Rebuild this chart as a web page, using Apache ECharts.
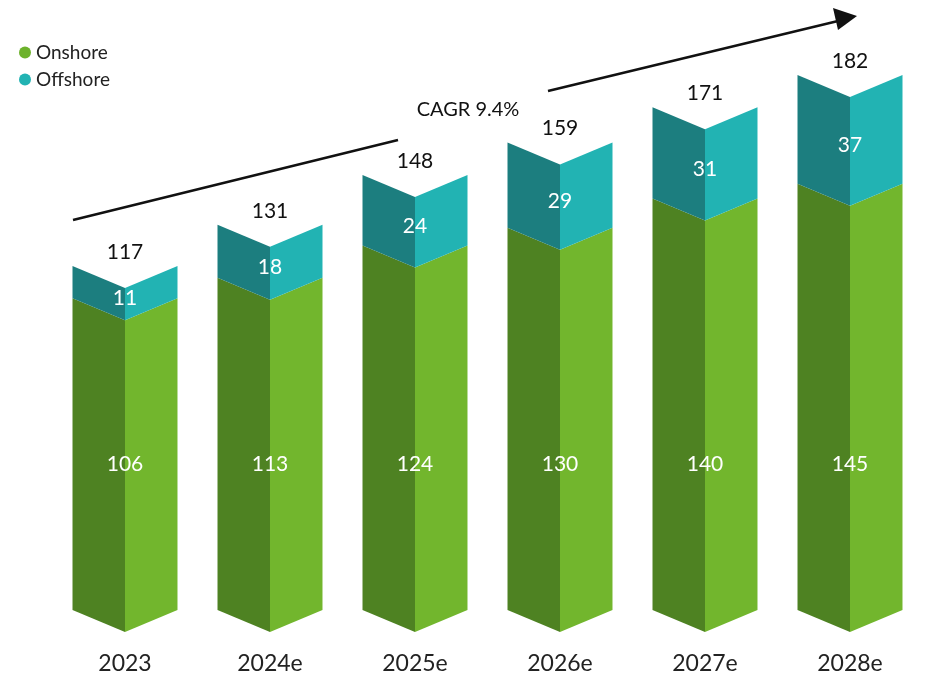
<!DOCTYPE html>
<html>
<head>
<meta charset="utf-8">
<script src="https://cdn.jsdelivr.net/npm/echarts@6/dist/echarts.min.js"></script>
<style>html,body{margin:0;background:#fff}#main{width:950px;height:698px}</style>
</head>
<body>
<div id="main"></div>
<script>
var years = ['2023', '2024e', '2025e', '2026e', '2027e', '2028e'];
var onshore = [106, 113, 124, 130, 140, 145];
var offshore = [11, 18, 24, 29, 31, 37];
var totals = [117, 131, 148, 159, 171, 182];

var chart = echarts.init(document.getElementById('main'));
var FONT = 'Lato, "DejaVu Sans", sans-serif';
var DEPTH = 22;

// 一根柱子的一段：左暗右亮，顶底都是 V 形
function prism(api, idx, v0, v1, dark, light) {
   var band = api.size([1, 0])[0];
   var hw = band * 0.362;
   var b = api.coord([idx, v0]);
   var t = api.coord([idx, v1]);
   var cx = b[0];
   return [{
      type: 'polygon',
      shape: { points: [[cx - hw, t[1] - DEPTH], [cx, t[1]], [cx, b[1]], [cx - hw, b[1] - DEPTH]] },
      style: { fill: dark }
   }, {
      type: 'polygon',
      shape: { points: [[cx, t[1]], [cx + hw, t[1] - DEPTH], [cx + hw, b[1] - DEPTH], [cx, b[1]]] },
      style: { fill: light }
   }];
}

var option = {
   animation: false,
   grid: { left: 52.5, right: 27.5, top: 44, bottom: 66 },
   legend: {
      orient: 'vertical', left: 14, top: 38, itemGap: 8,
      icon: 'circle', itemWidth: 12, itemHeight: 12,
      textStyle: { fontFamily: FONT, fontSize: 19, color: '#222' },
      data: ['Onshore', 'Offshore']
   },
   xAxis: {
      type: 'category', data: years,
      axisLine: { show: false }, axisTick: { show: false },
      axisLabel: { fontFamily: FONT, fontSize: 23, color: '#222', margin: 20 }
   },
   yAxis: { type: 'value', min: 0, max: 200, show: false, splitLine: { show: false } },
   series: [{
      name: 'Onshore', type: 'custom',
      itemStyle: { color: '#6db22c' },
      data: onshore.map(function (v, i) { return [i, v]; }),
      renderItem: function (params, api) {
         var i = api.value(0), v = api.value(1);
         var kids = prism(api, i, 0, v, '#4e8222', '#72b62d');
         var p = api.coord([i, 57]);
         kids.push({ type: 'text', x: p[0], y: p[1], style: { text: String(v), fill: '#fff', fontSize: 21, fontFamily: FONT, align: 'center', verticalAlign: 'middle' } });
         return { type: 'group', children: kids };
      }
   }, {
      name: 'Offshore', type: 'custom',
      itemStyle: { color: '#22b3b3' },
      data: offshore.map(function (v, i) { return [i, v]; }),
      renderItem: function (params, api) {
         var i = api.value(0), v = api.value(1);
         var base = onshore[i], top = base + v;
         var kids = prism(api, i, base, top, '#1c7e7f', '#22b3b3');
         var m = api.coord([i, base + v / 2]);
         kids.push({ type: 'text', x: m[0], y: m[1] - 6, style: { text: String(v), fill: '#fff', fontSize: 21, fontFamily: FONT, align: 'center', verticalAlign: 'middle' } });
         var t = api.coord([i, top]);
         kids.push({ type: 'text', x: t[0], y: t[1] - DEPTH - 14, style: { text: String(totals[i]), fill: '#111', fontSize: 21, fontFamily: FONT, align: 'center', verticalAlign: 'middle' } });
         return { type: 'group', children: kids };
      }
   }],
   graphic: [
      { type: 'line', shape: { x1: 73, y1: 220, x2: 398, y2: 140 }, style: { stroke: '#111', lineWidth: 2.5 } },
      { type: 'text', x: 468, y: 110, style: { text: 'CAGR 9.4%', fill: '#111', fontSize: 20, fontFamily: FONT, align: 'center', verticalAlign: 'middle' } },
      { type: 'line', shape: { x1: 548, y1: 91, x2: 838, y2: 21 }, style: { stroke: '#111', lineWidth: 2.5 } },
      { type: 'polygon', shape: { points: [[857, 16], [833, 8], [838, 30]] }, style: { fill: '#111' } }
   ]
};

chart.setOption(option);
</script>
</body>
</html>
